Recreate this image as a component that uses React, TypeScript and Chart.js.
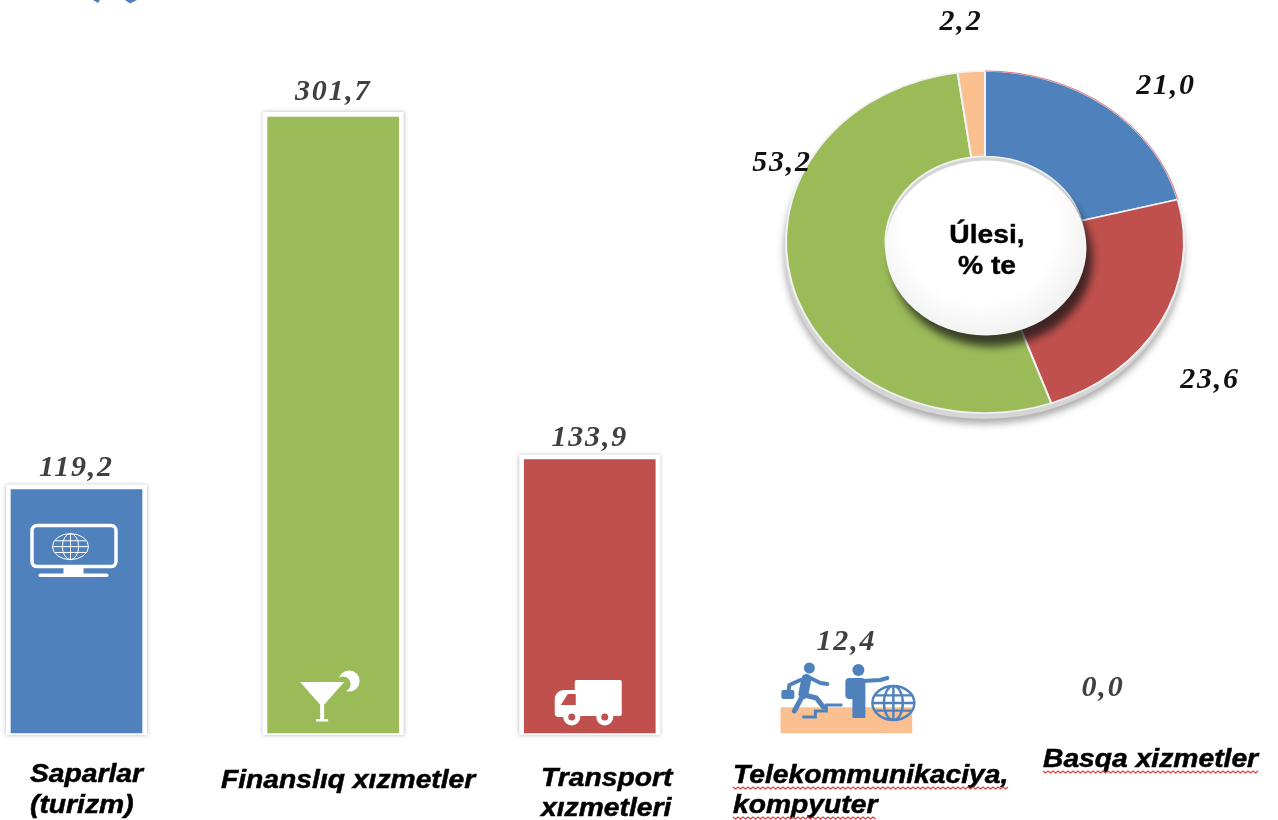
import React, { useEffect, useRef } from "react";
import { Chart, registerables } from "chart.js";

Chart.register(...registerables);

const barCategories = [
  ["Saparlar", "(turizm)"],
  ["Finanslıq xızmetler"],
  ["Transport", "xızmetleri"],
  ["Telekommunikaciya,", "kompyuter"],
  ["Basqa xizmetler"],
];
const barValues = [119.2, 301.7, 133.9, 12.4, 0.0];
const barColors = ["#4f81bd", "#9bbb59", "#c0504d", "#fac090", "rgba(0,0,0,0)"];
const framedBars = [true, true, true, false, false];

const shareLabels = ["Saparlar", "Transport", "Finanslıq", "Basqa"];
const shareValues = [21.0, 23.6, 53.2, 2.2];
const shareColors = ["#4f81bd", "#c0504d", "#9bbb59", "#fac090"];

const VALUE_FONT = "italic bold 30px 'Liberation Serif'";
const LABEL_FONT = "italic bold 25px 'Liberation Sans'";
const ICON = "#ffffff";
const fmt = (v: number) => v.toFixed(1).replace(".", ",");

// Text drawn wider than the font's natural width, as in the stretched source picture.
function wideText(ctx: CanvasRenderingContext2D, t: string, x: number, y: number, sx: number, weight = 0) {
  ctx.save();
  ctx.translate(x, y);
  ctx.scale(sx, 1);
  ctx.fillText(t, 0, 0);
  if (weight > 0) {
    ctx.lineWidth = weight;
    ctx.strokeStyle = ctx.fillStyle as string;
    ctx.strokeText(t, 0, 0);
  }
  ctx.restore();
}

function wavy(ctx: CanvasRenderingContext2D, x0: number, x1: number, y: number) {
  ctx.save();
  ctx.strokeStyle = "#e0403a";
  ctx.lineWidth = 1.2;
  ctx.beginPath();
  let up = false;
  ctx.moveTo(x0, y);
  for (let x = x0 + 2.5; x <= x1; x += 2.5) {
    ctx.lineTo(x, y + (up ? 0 : 2));
    up = !up;
  }
  ctx.stroke();
  ctx.restore();
}

function globe(ctx: CanvasRenderingContext2D, cx: number, cy: number, r: number, ry: number, color: string, lw: number) {
  ctx.save();
  ctx.strokeStyle = color;
  ctx.lineWidth = lw;
  ctx.beginPath();
  ctx.ellipse(cx, cy, r, ry, 0, 0, Math.PI * 2);
  ctx.moveTo(cx - r, cy);
  ctx.lineTo(cx + r, cy);
  ctx.moveTo(cx, cy - ry);
  ctx.lineTo(cx, cy + ry);
  ctx.moveTo(cx + r * 0.45, cy);
  ctx.ellipse(cx, cy, r * 0.45, ry, 0, 0, Math.PI * 2);
  ctx.moveTo(cx - r * 0.88, cy - ry * 0.45);
  ctx.lineTo(cx + r * 0.88, cy - ry * 0.45);
  ctx.moveTo(cx - r * 0.88, cy + ry * 0.45);
  ctx.lineTo(cx + r * 0.88, cy + ry * 0.45);
  ctx.stroke();
  ctx.restore();
}

function monitorIcon(ctx: CanvasRenderingContext2D, cx: number, top: number) {
  ctx.save();
  ctx.strokeStyle = ICON;
  ctx.fillStyle = ICON;
  ctx.lineWidth = 3.5;
  ctx.beginPath();
  ctx.roundRect(cx - 41.5, top + 36, 84, 41, 5);
  ctx.stroke();
  ctx.fillRect(cx - 10, top + 77, 20, 8);
  ctx.beginPath();
  ctx.roundRect(cx - 35, top + 84, 70, 3.5, 1.7);
  ctx.fill();
  ctx.restore();
  globe(ctx, cx - 3, top + 57, 18, 13, ICON, 1);
}

function cocktailIcon(ctx: CanvasRenderingContext2D, cx: number, base: number, bg: string) {
  ctx.save();
  ctx.fillStyle = ICON;
  ctx.beginPath();
  ctx.arc(cx + 16, base - 52, 10.5, 0, Math.PI * 2);
  ctx.fill();
  ctx.fillStyle = bg;
  ctx.beginPath();
  ctx.arc(cx + 10, base - 49, 7.5, 0, Math.PI * 2);
  ctx.fill();
  ctx.fillStyle = ICON;
  ctx.beginPath();
  ctx.moveTo(cx - 33, base - 51);
  ctx.lineTo(cx + 11, base - 51);
  ctx.lineTo(cx - 11, base - 26);
  ctx.closePath();
  ctx.fill();
  ctx.fillRect(cx - 13, base - 28, 4, 15);
  ctx.fillRect(cx - 17, base - 14, 12, 2.5);
  ctx.restore();
}

function truckIcon(ctx: CanvasRenderingContext2D, cx: number, base: number, bg: string) {
  ctx.save();
  ctx.fillStyle = ICON;
  ctx.beginPath();
  ctx.roundRect(cx - 16, base - 53, 47, 36, 2);
  ctx.fill();
  ctx.beginPath();
  ctx.roundRect(cx - 36, base - 43, 24, 27, [9, 2, 2, 4]);
  ctx.fill();
  ctx.fillStyle = bg;
  ctx.beginPath();
  ctx.moveTo(cx - 30, base - 28);
  ctx.lineTo(cx - 23, base - 39);
  ctx.lineTo(cx - 15, base - 39);
  ctx.lineTo(cx - 15, base - 28);
  ctx.closePath();
  ctx.fill();
  for (const dx of [-19, 14]) {
    ctx.fillStyle = ICON;
    ctx.beginPath();
    ctx.arc(cx + dx, base - 16, 8.5, 0, Math.PI * 2);
    ctx.fill();
    ctx.fillStyle = bg;
    ctx.beginPath();
    ctx.arc(cx + dx, base - 16, 3.5, 0, Math.PI * 2);
    ctx.fill();
  }
  ctx.restore();
}

function peopleIcon(ctx: CanvasRenderingContext2D, cx: number, base: number) {
  const blue = "#4f81bd";
  const line = (w: number, pts: [number, number][], cap: CanvasLineCap = "round") => {
    ctx.lineWidth = w;
    ctx.lineCap = cap;
    ctx.beginPath();
    pts.forEach(([x, y], k) => (k ? ctx.lineTo(x, y) : ctx.moveTo(x, y)));
    ctx.stroke();
  };
  ctx.save();
  ctx.translate(cx - 846, base - 733);
  ctx.fillStyle = blue;
  ctx.strokeStyle = blue;
  ctx.lineJoin = "round";
  // runner
  ctx.beginPath();
  ctx.arc(809, 668, 5.5, 0, Math.PI * 2);
  ctx.fill();
  line(10, [[806, 679], [803, 694]]);
  line(4, [[810, 678], [820, 683], [827, 684]]);
  line(4, [[800, 680], [789, 685], [788, 692]]);
  ctx.beginPath();
  ctx.roundRect(781, 690, 13, 9, 2);
  ctx.fill();
  line(5, [[804, 695], [816, 698], [823, 707]]);
  line(5, [[801, 698], [794, 711]]);
  // stairs
  ctx.lineJoin = "miter";
  line(3, [[802, 717], [815, 717], [815, 711], [826, 711], [826, 705], [842, 705]], "butt");
  ctx.lineJoin = "round";
  // standing man
  ctx.beginPath();
  ctx.arc(858, 670, 6, 0, Math.PI * 2);
  ctx.fill();
  ctx.beginPath();
  ctx.roundRect(845, 678, 20, 21, 4);
  ctx.fill();
  ctx.beginPath();
  ctx.roundRect(852, 695, 13, 23, 1);
  ctx.fill();
  line(4, [[862, 681], [880, 680], [887, 678]]);
  ctx.restore();
  ctx.save();
  ctx.translate(cx - 846, base - 733);
  globe(ctx, 893, 703, 21, 17, blue, 2.4);
  ctx.restore();
}

const barDecor = {
  id: "barDecor",
  beforeDatasetsDraw(chart: any) {
    const { ctx } = chart;
    chart.getDatasetMeta(0).data.forEach((bar: any, i: number) => {
      if (!framedBars[i]) return;
      const half = bar.width / 2 + 5;
      ctx.save();
      ctx.shadowColor = "rgba(120,120,120,0.55)";
      ctx.shadowBlur = 4;
      ctx.fillStyle = "#ffffff";
      ctx.fillRect(bar.x - half, bar.y - 5, half * 2, bar.base - bar.y + 7);
      ctx.restore();
    });
  },
  afterDatasetsDraw(chart: any) {
    const { ctx } = chart;
    const yScale = chart.scales.y;
    const xScale = chart.scales.x;
    const bars = chart.getDatasetMeta(0).data;
    const base = yScale.getPixelForValue(0);
    monitorIcon(ctx, bars[0].x - 3, bars[0].y);
    cocktailIcon(ctx, bars[1].x, base, barColors[1]);
    truckIcon(ctx, bars[2].x + 1, base, barColors[2]);
    peopleIcon(ctx, bars[3].x, base);

    // value labels
    const gaps = [14, 17, 14, 58, 37];
    ctx.save();
    ctx.font = VALUE_FONT;
    ctx.letterSpacing = "1.8px";
    ctx.textAlign = "center";
    ctx.textBaseline = "alphabetic";
    ctx.fillStyle = "#404040";
    barValues.forEach((v, i) => {
      ctx.fillText(fmt(v), xScale.getPixelForValue(i), yScale.getPixelForValue(v) - gaps[i]);
    });
    ctx.restore();

    // category labels
    const lineX = [30, 221, 541, 733, 1043];
    const lineY = [[782, 813], [788], [786, 816], [783, 813], [767]];
    const STRETCH = 1.13;
    ctx.save();
    ctx.font = LABEL_FONT;
    ctx.fillStyle = "#000000";
    ctx.textAlign = "left";
    ctx.textBaseline = "alphabetic";
    barCategories.forEach((lines, i) => {
      lines.forEach((t, j) => {
        wideText(ctx, t, lineX[i], lineY[i][j], STRETCH, 0.5);
        if (i >= 3) {
          wavy(ctx, lineX[i], lineX[i] + ctx.measureText(t).width * STRETCH, lineY[i][j] + 4);
        }
      });
    });
    ctx.restore();

    // cropped marks at the top edge of the picture
    ctx.save();
    ctx.fillStyle = "#4f81bd";
    ctx.beginPath();
    ctx.moveTo(93, 0);
    ctx.lineTo(100, 0);
    ctx.lineTo(98, 3);
    ctx.closePath();
    ctx.moveTo(125, 0);
    ctx.lineTo(137, 0);
    ctx.lineTo(130, 3.5);
    ctx.closePath();
    ctx.fill();
    ctx.restore();
  },
};

const SQUASH = 171 / 199;

const donutDecor = {
  id: "donutDecor",
  beforeDatasetsDraw(chart: any) {
    const { ctx } = chart;
    const arc = chart.getDatasetMeta(0).data[0];
    const { x, y, outerRadius } = arc;
    ctx.save();
    ctx.shadowColor = "rgba(90,90,90,0.5)";
    ctx.shadowBlur = 7;
    ctx.shadowOffsetY = 5;
    ctx.fillStyle = "#d5d5d5";
    ctx.beginPath();
    ctx.ellipse(x - 1, y + 5, outerRadius + 1, outerRadius * SQUASH + 1, 0, 0, Math.PI * 2);
    ctx.fill();
    ctx.restore();
    ctx.save();
    ctx.translate(x, y);
    ctx.scale(1, SQUASH);
    ctx.translate(-x, -y);
  },
  afterDatasetsDraw(chart: any) {
    const { ctx } = chart;
    ctx.restore();
    const arc = chart.getDatasetMeta(0).data[0];
    const { x, y, innerRadius, outerRadius, startAngle, endAngle } = arc;

    ctx.save();
    ctx.strokeStyle = "#d9777a";
    ctx.lineWidth = 1;
    ctx.beginPath();
    ctx.ellipse(x, y, outerRadius, outerRadius * SQUASH, 0, startAngle, endAngle);
    ctx.stroke();
    ctx.restore();

    // raised centre
    const cy = y + 6;
    const hx = x + 1;
    const rx = innerRadius + 1;
    const ry = innerRadius * SQUASH + 2;
    ctx.save();
    ctx.shadowColor = "rgba(20,20,20,0.75)";
    ctx.shadowBlur = 8;
    ctx.shadowOffsetX = 6;
    ctx.shadowOffsetY = 11;
    const g = ctx.createRadialGradient(hx - 6, cy - 22, rx * 0.75, hx - 6, cy - 22, rx * 1.2);
    g.addColorStop(0, "#ffffff");
    g.addColorStop(1, "#eeeeee");
    ctx.fillStyle = g;
    ctx.beginPath();
    ctx.ellipse(hx, cy, rx, ry, 0, 0, Math.PI * 2);
    ctx.fill();
    ctx.restore();

    ctx.save();
    ctx.fillStyle = "#000000";
    ctx.font = "bold 25px 'Liberation Sans'";
    ctx.textAlign = "center";
    wideText(ctx, "Úlesi,", x + 2, 243, 1.13, 0.4);
    wideText(ctx, "% te", x + 2, 274, 1.13, 0.4);
    ctx.font = VALUE_FONT;
    ctx.letterSpacing = "1.8px";
    ctx.fillStyle = "#111111";
    const pos: [number, number][] = [[1166, 94], [1210, 388], [782, 171], [961, 30]];
    shareValues.forEach((v, i) => ctx.fillText(fmt(v), pos[i][0], pos[i][1]));
    ctx.restore();
  },
};

export default function App() {
  const barRef = useRef<HTMLCanvasElement>(null);
  const donutRef = useRef<HTMLCanvasElement>(null);

  useEffect(() => {
    const bar = new Chart(barRef.current!, {
      type: "bar",
      data: {
        labels: barCategories.map((l) => l.join(" ")),
        datasets: [
          {
            data: barValues,
            backgroundColor: barColors,
            barThickness: 131,
            clip: false as any,
          },
        ],
      },
      options: {
        responsive: false,
        animation: false,
        layout: { padding: { left: 76.5, right: 175, top: 117, bottom: 87 } },
        plugins: { legend: { display: false }, tooltip: { enabled: false } },
        scales: {
          x: { display: false, offset: false, grid: { display: false } },
          y: { display: false, min: 0, max: 301.7, grid: { display: false } },
        },
      },
      plugins: [barDecor],
    });
    const donut = new Chart(donutRef.current!, {
      type: "doughnut",
      data: {
        labels: shareLabels,
        datasets: [
          {
            data: shareValues,
            backgroundColor: shareColors,
            borderColor: "#f2f2f2",
            borderWidth: 2,
          },
        ],
      },
      options: {
        responsive: false,
        animation: false,
        cutout: "50%",
        layout: { padding: { left: 785, right: 93, top: 42, bottom: 378 } },
        plugins: { legend: { display: false }, tooltip: { enabled: false } },
      },
      plugins: [donutDecor],
    });
    return () => {
      bar.destroy();
      donut.destroy();
    };
  }, []);

  const canvasStyle: React.CSSProperties = { position: "absolute", left: 0, top: 0, display: "block" };
  return (
    <div style={{ position: "fixed", left: 0, top: 0, width: 1278, height: 820, overflow: "hidden", background: "#fff", filter: "blur(0.6px)" }}>
      <canvas ref={barRef} width={1278} height={820} style={canvasStyle} />
      <canvas ref={donutRef} width={1278} height={820} style={canvasStyle} />
    </div>
  );
}
